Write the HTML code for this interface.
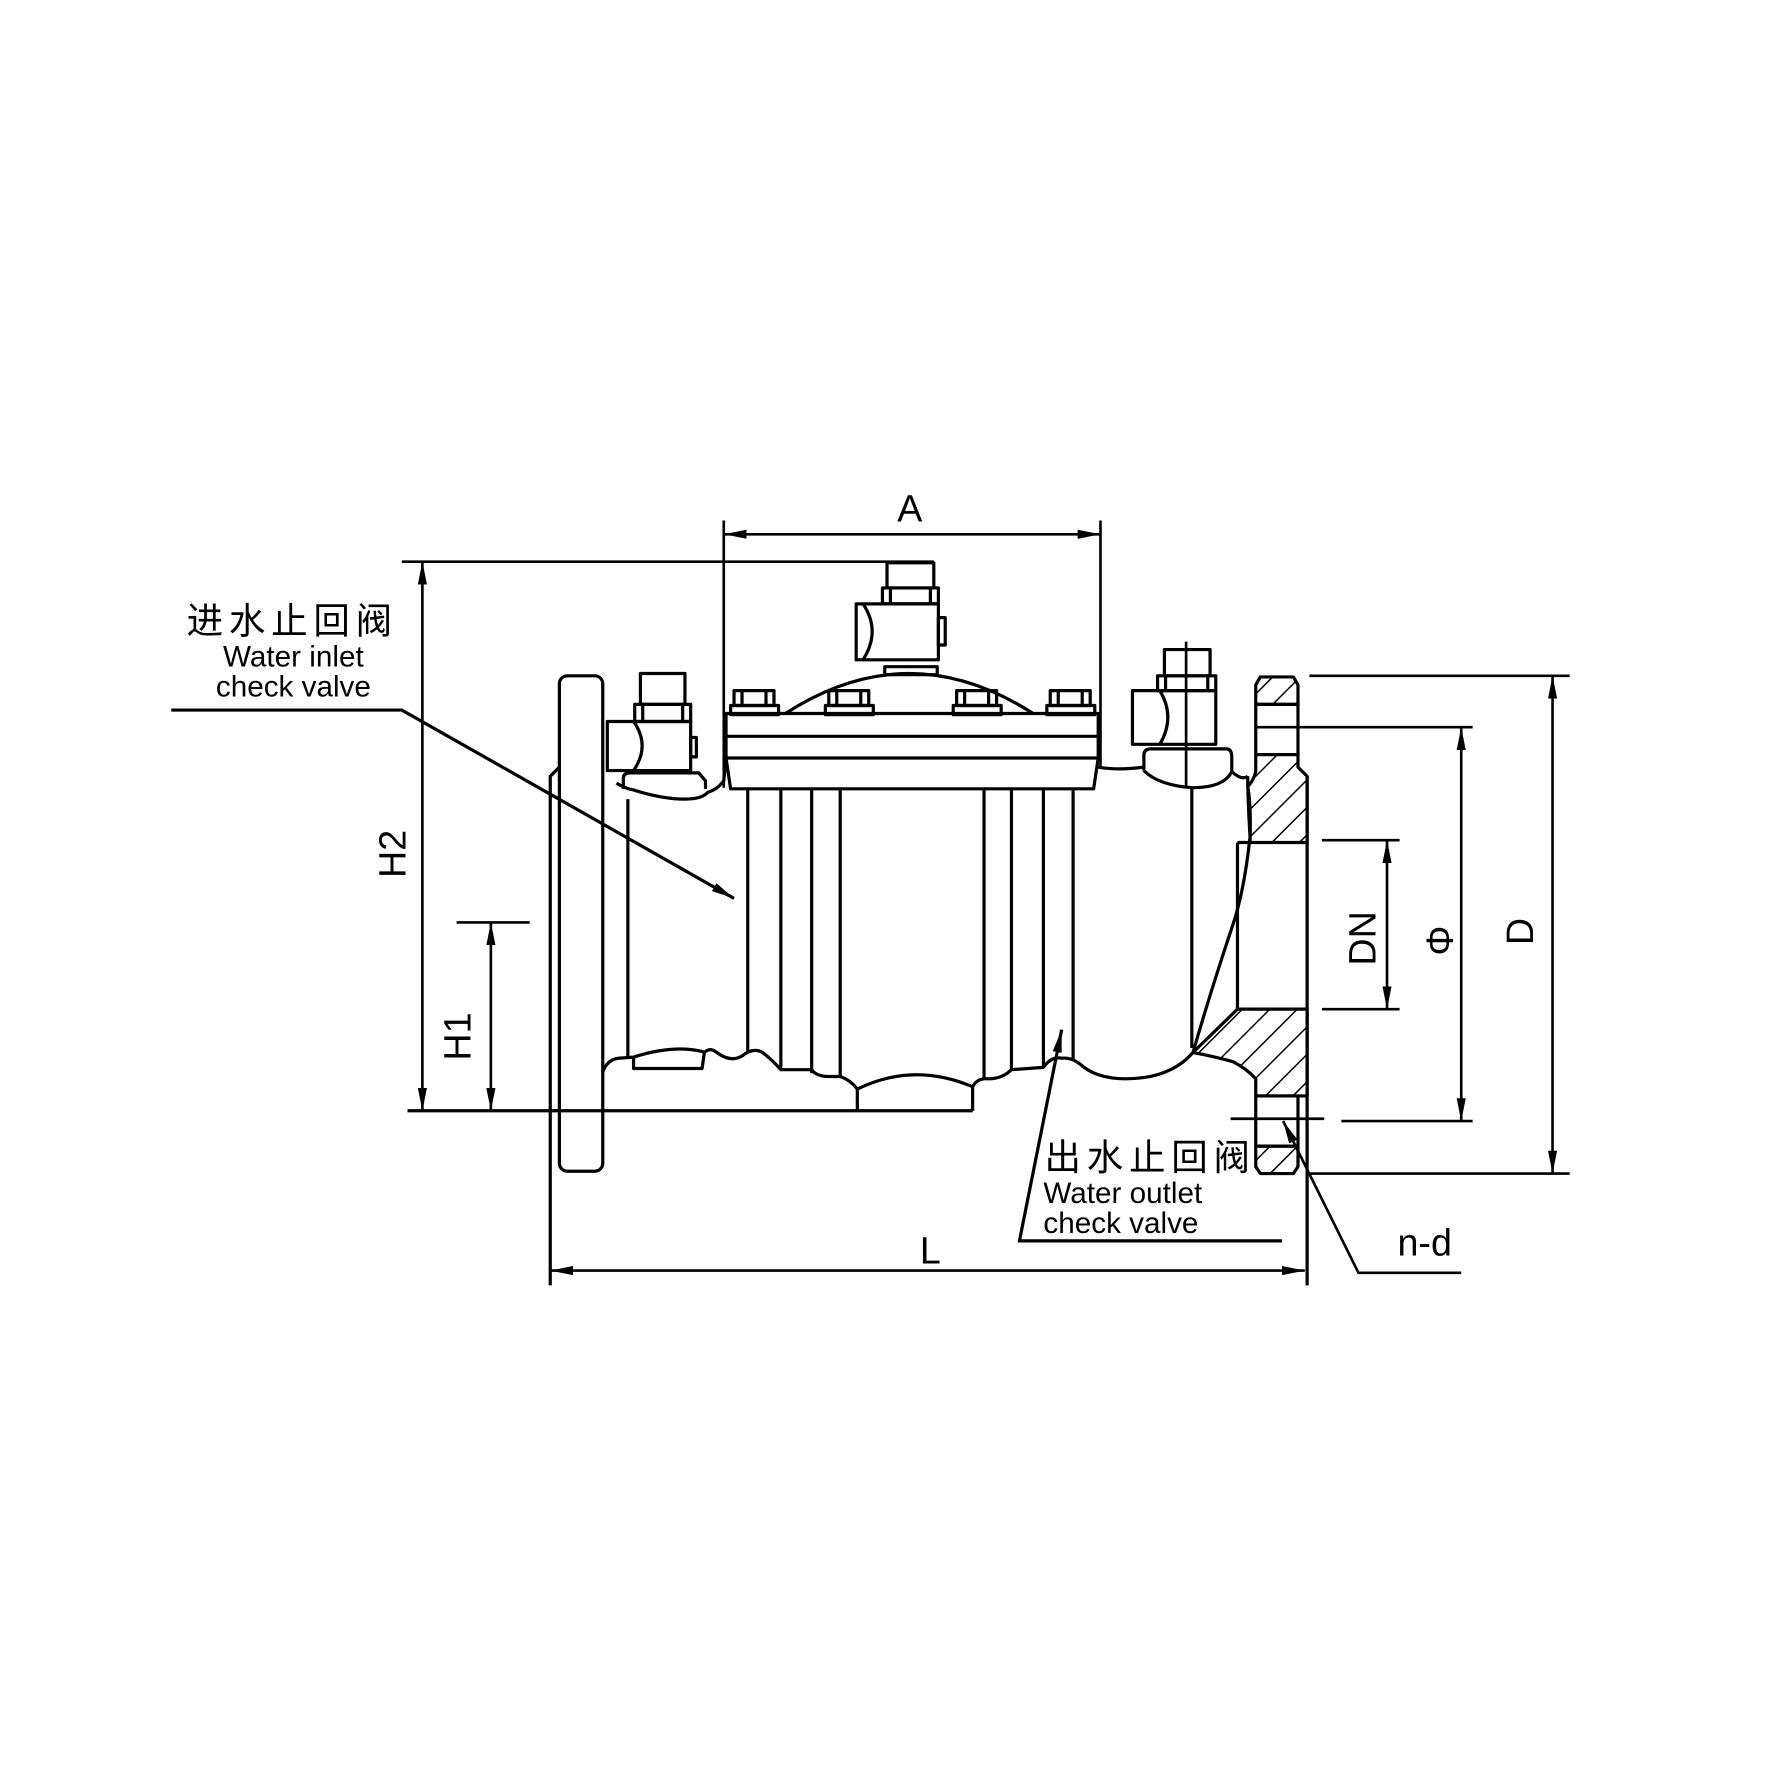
<!DOCTYPE html>
<html><head><meta charset="utf-8"><style>
html,body{margin:0;padding:0;background:#fff;}
svg{display:block;}
text{font-family:"Liberation Sans","Noto Sans CJK SC",sans-serif;fill:#000;}
</style></head><body>
<svg width="1790" height="1790" viewBox="0 0 1568 1568" xmlns="http://www.w3.org/2000/svg">
<defs>
<pattern id="h" patternUnits="userSpaceOnUse" width="17" height="17" patternTransform="rotate(45)">
<line x1="0" y1="0" x2="0" y2="17" stroke="#000" stroke-width="2.6"/>
</pattern>
<marker id="ar" viewBox="0 0 20 8" refX="20" refY="4" markerWidth="20" markerHeight="8" markerUnits="userSpaceOnUse" orient="auto-start-reverse">
<path d="M0,0 L20,4 L0,8 z" fill="#000"/>
</marker>
</defs>
<g fill="none" stroke="#000" stroke-width="2.8" stroke-linejoin="round">
<line x1="634" y1="456" x2="634" y2="690" stroke-width="2.3"/>
<line x1="964" y1="456" x2="964" y2="672" stroke-width="2.3"/>
<line x1="634" y1="468" x2="964" y2="468" stroke-width="2.3" marker-start="url(#ar)" marker-end="url(#ar)"/>
<line x1="352" y1="492" x2="818" y2="492" stroke-width="2.3"/>
<line x1="370" y1="492" x2="370" y2="973" stroke-width="2.3" marker-start="url(#ar)" marker-end="url(#ar)"/>
<line x1="357" y1="973" x2="852" y2="973"/>
<line x1="400" y1="808" x2="464" y2="808" stroke-width="2.3"/>
<line x1="430" y1="808" x2="430" y2="973" stroke-width="2.3" marker-start="url(#ar)" marker-end="url(#ar)"/>
<rect x="490" y="592" width="38" height="434" rx="7"/>
<polyline points="482,1126 482,680 490,672"/>
<line x1="550" y1="700" x2="550" y2="927"/>
<line x1="482" y1="1113" x2="1143" y2="1113" stroke-width="2.3" marker-start="url(#ar)" marker-end="url(#ar)"/>
<line x1="1145" y1="680" x2="1145" y2="1126"/>
<path d="M636,625 L962,625 L962,664 L958,691 L640,691 L636,664 Z"/>
<line x1="636" y1="645" x2="962" y2="645"/>
<line x1="636" y1="664" x2="962" y2="664"/>
<path d="M688,625 Q796,555 905,625"/>
<g>
<rect x="643" y="605" width="35" height="13"/><rect x="640" y="618" width="42" height="8"/><line x1="650" y1="605" x2="650" y2="618"/><line x1="671" y1="605" x2="671" y2="618"/>
<rect x="726" y="605" width="35" height="13"/><rect x="723" y="618" width="42" height="8"/><line x1="733" y1="605" x2="733" y2="618"/><line x1="754" y1="605" x2="754" y2="618"/>
<rect x="838" y="605" width="35" height="13"/><rect x="835" y="618" width="42" height="8"/><line x1="845" y1="605" x2="845" y2="618"/><line x1="866" y1="605" x2="866" y2="618"/>
<rect x="920" y="605" width="35" height="13"/><rect x="917" y="618" width="42" height="8"/><line x1="927" y1="605" x2="927" y2="618"/><line x1="948" y1="605" x2="948" y2="618"/>
</g>
<rect x="777" y="493" width="41" height="22"/>
<rect x="773" y="515" width="49" height="14"/><line x1="780" y1="515" x2="780" y2="529"/><line x1="815" y1="515" x2="815" y2="529"/>
<rect x="750" y="529" width="72" height="49"/>
<rect x="822" y="541" width="6" height="24"/>
<path d="M756,529 Q772,553 756,578"/>
<rect x="775" y="584" width="46" height="7"/>
<rect x="561" y="590" width="39" height="27"/>
<rect x="556" y="617" width="49" height="15"/><line x1="563" y1="617" x2="563" y2="632"/><line x1="598" y1="617" x2="598" y2="632"/>
<rect x="532" y="632" width="73" height="43"/>
<rect x="605" y="646" width="5" height="17"/>
<path d="M555,632 Q570,653 555,675"/>
<path d="M546,691 L546,682 Q546,677 552,677 L612,677 L618,684 L618,691"/>
<path d="M540,686 Q548,691 555,692 Q580,700 600,700 Q615,700 620,694 Q628,692 634,684 L636,664"/>
<line x1="1039" y1="562" x2="1039" y2="690" stroke-width="2.3"/>
<rect x="1020" y="569" width="40" height="23"/>
<rect x="1014" y="592" width="51" height="13"/><line x1="1021" y1="592" x2="1021" y2="605"/><line x1="1058" y1="592" x2="1058" y2="605"/>
<rect x="992" y="605" width="73" height="47"/>
<path d="M1016,605 Q1030,628 1016,652"/>
<path d="M1002,675 L1002,662 Q1002,656 1008,656 L1074,656 Q1079,656 1079,663 L1079,676 Q1072,690 1045,690 Q1015,688 1002,675"/>
<path d="M962,672 Q980,675 1002,672"/>
<path d="M1079,676 Q1088,684 1093,680"/>
<line x1="655" y1="691" x2="655" y2="922"/>
<line x1="684" y1="691" x2="684" y2="937"/>
<line x1="711" y1="691" x2="711" y2="940"/>
<line x1="736" y1="691" x2="736" y2="943"/>
<line x1="862" y1="691" x2="862" y2="945"/>
<line x1="886" y1="691" x2="886" y2="937"/>
<line x1="914" y1="691" x2="914" y2="935"/>
<line x1="940" y1="691" x2="940" y2="928"/>
<line x1="1044" y1="689" x2="1044" y2="918"/>
<path d="M528,939 Q532,928 542,927 L555,926 Q589,915 615,921 L617,922 Q622,917 628,922 Q640,931 650,925 Q660,917 668,922 Q676,928 684,937 L711,937 Q715,943 726,943 L736,943 Q745,946 751,954 Q800,930 852,952 Q856,944 866,945 Q878,945 886,937 L914,935 Q921,925 930,927 Q938,926 946,932 Q960,945 986,945 Q1025,945 1045,922"/>
<path d="M555,927 L555,936 L615,936 L617,922"/>
<line x1="751" y1="954" x2="751" y2="973"/>
<line x1="852" y1="952" x2="852" y2="973"/>
<path d="M1095,733 Q1090,780 1080,810 Q1060,870 1045,922"/>
<path d="M1093,680 Q1093,700 1095,733"/>
</g>
<g stroke="#000" stroke-width="2.8" stroke-linejoin="round">
<path d="M1104,593 L1133,593 L1137,600 L1137,617 L1100,617 L1100,600 Z" fill="url(#h)"/>
<path d="M1100,661 L1137,661 L1137,672 L1145,680 L1145,738 L1095,738 Q1096,705 1093,689 Q1098,684 1100,676 Z" fill="url(#h)"/>
<path d="M1084,884 L1145,884 L1145,960 L1100,960 L1100,945 Q1092,936 1080,930 Q1062,925 1045,922 Z" fill="url(#h)"/>
<path d="M1100,1004 L1137,1004 L1137,1022 L1133,1028 L1104,1028 L1100,1022 Z" fill="url(#h)"/>
<g fill="none">
<rect x="1100" y="617" width="37" height="44"/>
<rect x="1100" y="960" width="37" height="44"/>
<line x1="1084" y1="738" x2="1084" y2="884"/>
<line x1="1084" y1="738" x2="1095" y2="738"/>
</g>
</g>
<g stroke="#000" stroke-width="2.3" fill="none">
<line x1="1147" y1="592" x2="1375" y2="592"/>
<line x1="1147" y1="1028" x2="1375" y2="1028"/>
<line x1="1360" y1="592" x2="1360" y2="1028" marker-start="url(#ar)" marker-end="url(#ar)"/>
<line x1="1100" y1="637" x2="1290" y2="637"/>
<line x1="1175" y1="982" x2="1290" y2="982"/>
<line x1="1280" y1="637" x2="1280" y2="982" marker-start="url(#ar)" marker-end="url(#ar)"/>
<line x1="1158" y1="736" x2="1226" y2="736"/>
<line x1="1158" y1="884" x2="1226" y2="884"/>
<line x1="1215" y1="736" x2="1215" y2="884" marker-start="url(#ar)" marker-end="url(#ar)"/>
<line x1="1078" y1="980" x2="1160" y2="980"/>
<polyline points="1280,1115 1190,1115 1124,982" marker-end="url(#ar)"/>
<polyline points="150,622 352,622 643,787" stroke-width="2.8" marker-end="url(#ar)"/>
<polyline points="1123,1087 893,1087 930,902" stroke-width="2.8" marker-end="url(#ar)"/>
</g>
<text x="797" y="457" font-size="33" text-anchor="middle">A</text>
<text x="815" y="1107" font-size="33" text-anchor="middle">L</text>
<text x="1248" y="1100" font-size="33" text-anchor="middle">n-d</text>
<text transform="translate(355,748) rotate(-90)" font-size="33" text-anchor="middle">H2</text>
<text transform="translate(412,908) rotate(-90)" font-size="33" text-anchor="middle">H1</text>
<text transform="translate(1205,822) rotate(-90)" font-size="33" text-anchor="middle">DN</text>
<text transform="translate(1273,824) rotate(-90)" font-size="33" text-anchor="middle">Φ</text>
<text transform="translate(1343,816) rotate(-90)" font-size="33" text-anchor="middle">D</text>
<text x="256" y="555" font-size="32" text-anchor="middle" letter-spacing="5">进水止回阀</text>
<text x="257" y="584" font-size="26" text-anchor="middle">Water inlet</text>
<text x="257" y="610" font-size="26" text-anchor="middle">check valve</text>
<text x="915" y="1025" font-size="32" letter-spacing="5">出水止回阀</text>
<text x="914" y="1054" font-size="26">Water outlet</text>
<text x="914" y="1080" font-size="26">check valve</text>
</svg>
</body></html>
